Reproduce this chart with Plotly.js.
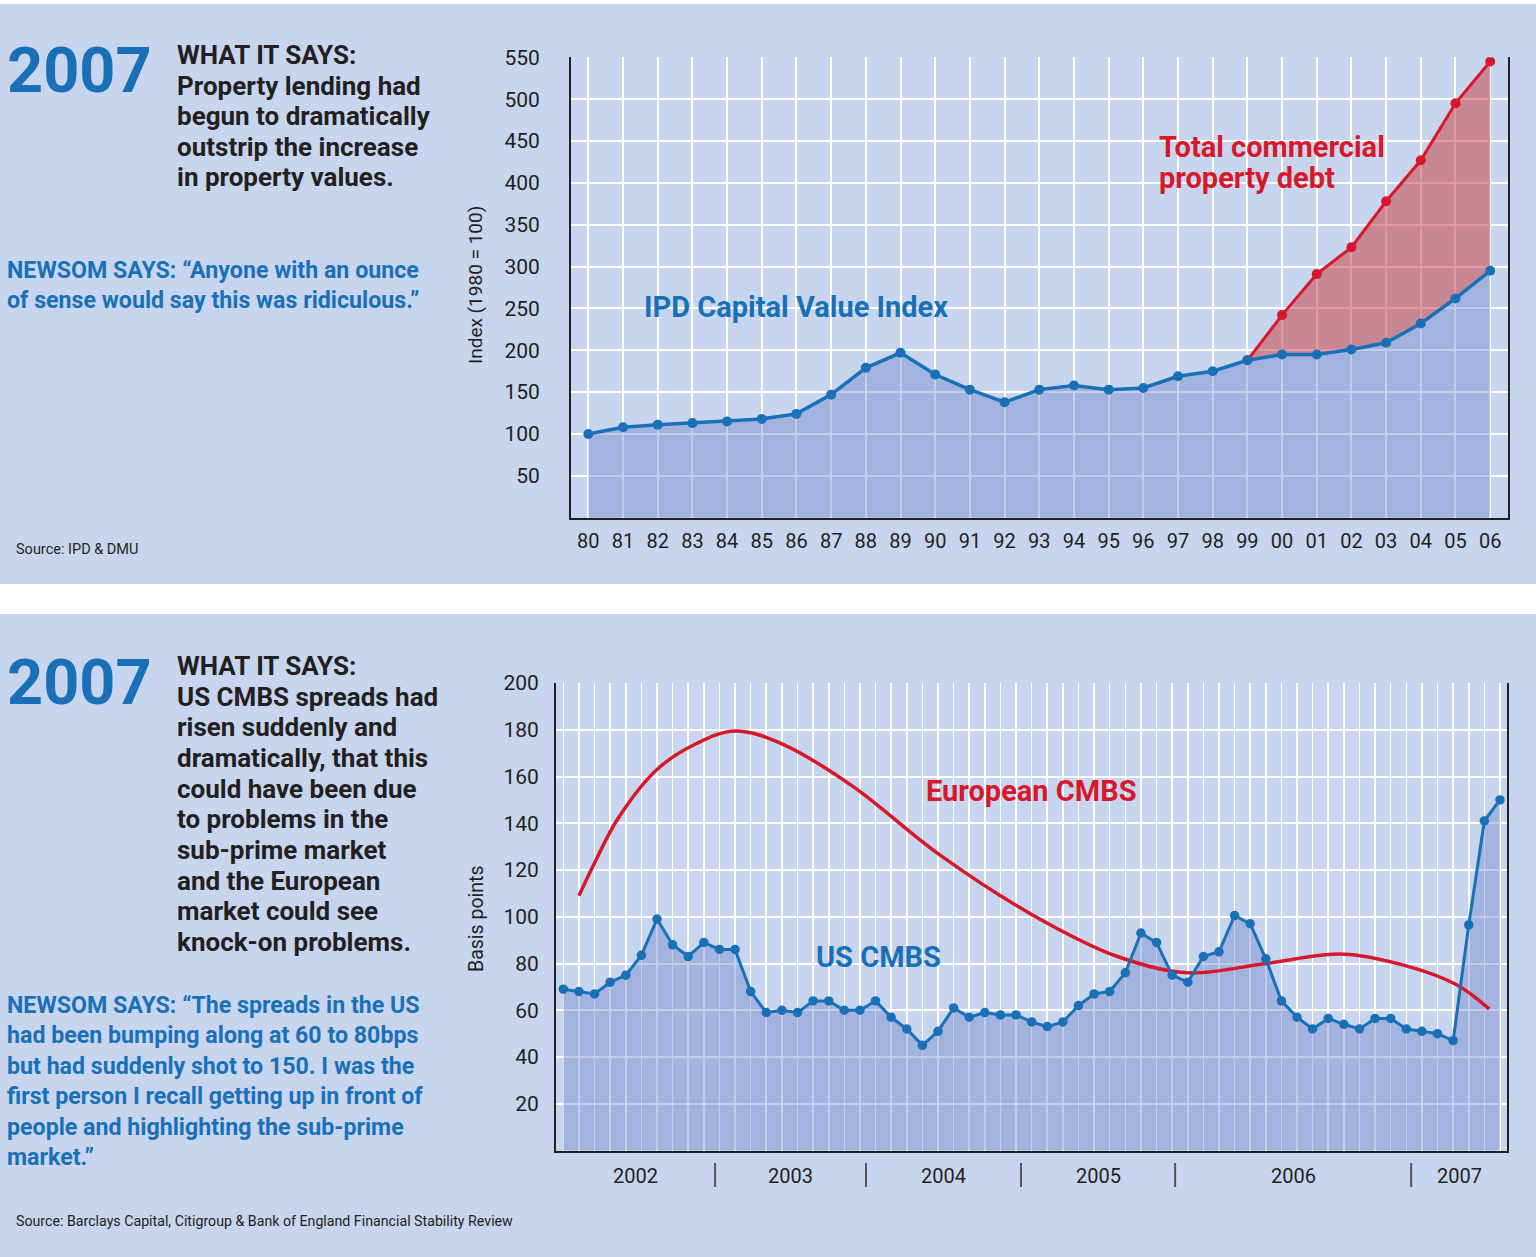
<!DOCTYPE html>
<html>
<head>
<meta charset="utf-8">
<script src="https://cdn.plot.ly/plotly-3.0.1.min.js"></script>
<style>
html,body{margin:0;padding:0;background:#ffffff;}
#chart{width:1536px;height:1257px;}
</style>
</head>
<body>
<div id="chart"></div>
<script>
// ---------- DATA ----------
const topYears = ['80','81','82','83','84','85','86','87','88','89','90','91','92','93','94','95','96','97','98','99','00','01','02','03','04','05','06'];
const ipdIndex = [100,108,111,113,115,118,124,147,179,197,171,153,138,153,158,153,155,169,175,188,195,195,201,209,232,262,295];
const debtYears = ['99','00','01','02','03','04','05','06'];
const propertyDebt = [188,242,291,323,378,427,495,545];
const topYTicks = [50,100,150,200,250,300,350,400,450,500,550];

const usCmbs = [69,68,67,72,75,83.5,99,88,83,89,86,86,68,59,60,59,64,64,60,60,64,57,52,45,51,61,57,59,58,58,55,53,55,62,67,68,76,93,89,75,72,83,85,100.5,97,82,64,57,52,56.5,54,52,56.5,56.5,52,51,50,47,96.5,141,150];
const euroX = [1.0,2.0,3.5,6.0,8.5,11.0,14.0,18.5,24.0,30.0,35.5,40.0,45.0,50.0,54.0,57.2,59.3];
const euroCmbs = [109,123,142,163,174,179.5,174,156,127,101,83,76,80,84,79,71,60.6];
const bottomYTicks = [20,40,60,80,100,120,140,160,180,200];
const bottomYears = ['2002','2003','2004','2005','2006','2007'];
const yearBreaks = [9.72,19.39,29.32,39.19,54.31];

const topTextLines = ['WHAT IT SAYS:','Property lending had','begun to dramatically','outstrip the increase','in property values.'];
const topQuoteLines = ['NEWSOM SAYS: \u201CAnyone with an ounce','of sense would say this was ridiculous.\u201D'];
const bottomTextLines = ['WHAT IT SAYS:','US CMBS spreads had','risen suddenly and','dramatically, that this','could have been due','to problems in the','sub-prime market','and the European','market could see','knock-on problems.'];
const bottomQuoteLines = ['NEWSOM SAYS: \u201CThe spreads in the US','had been bumping along at 60 to 80bps','but had suddenly shot to 150. I was the','first person I recall getting up in front of','people and highlighting the sub-prime','market.\u201D'];

// ---------- STYLE / LAYOUT ----------
const W = 1536, H = 1257;
const px = x => x / W;
const py = y => 1 - y / H;
const PANEL = '#c7d5ee';
const DARK = '#231f20';
const BLUE = '#1a70b7';
const RED = '#d7182a';
const FONT = 'Roboto, "Open Sans", sans-serif';
const usX = usCmbs.map((_, i) => i);
const ipdUnderDebt = ipdIndex.slice(topYears.indexOf(debtYears[0]));

const traces = [
  {x: topYears, y: ipdIndex, xaxis:'x', yaxis:'y', type:'scatter', mode:'lines', line:{width:0, color:'rgba(0,0,0,0)'}, fill:'tozeroy', fillcolor:'rgba(109,133,200,0.42)', hoverinfo:'skip'},
  {x: debtYears.concat(debtYears.slice().reverse()), y: propertyDebt.concat(ipdUnderDebt.slice().reverse()), xaxis:'x', yaxis:'y', type:'scatter', mode:'lines', line:{width:0, color:'rgba(0,0,0,0)'}, fill:'toself', fillcolor:'rgba(202,80,84,0.58)', hoverinfo:'skip'},
  {x: debtYears, y: propertyDebt, xaxis:'x', yaxis:'y', type:'scatter', mode:'lines+markers', line:{color:RED, width:3}, marker:{color:RED, size:10}},
  {x: topYears, y: ipdIndex, xaxis:'x', yaxis:'y', type:'scatter', mode:'lines+markers', line:{color:BLUE, width:3.5}, marker:{color:BLUE, size:10}},
  {x: usX, y: usCmbs, xaxis:'x2', yaxis:'y2', type:'scatter', mode:'lines', line:{width:0, color:'rgba(0,0,0,0)'}, fill:'tozeroy', fillcolor:'rgba(109,133,200,0.42)', hoverinfo:'skip'},
  {x: euroX, y: euroCmbs, xaxis:'x2', yaxis:'y2', type:'scatter', mode:'lines', line:{color:RED, width:3.5, shape:'spline', smoothing:1}},
  {x: usX, y: usCmbs, xaxis:'x2', yaxis:'y2', type:'scatter', mode:'lines+markers', line:{color:BLUE, width:3}, marker:{color:BLUE, size:9.5}}
];

const annotations = [];
function txt(text, x, y, size, color, bold, extra) {
  annotations.push(Object.assign({
    text: text, xref:'paper', yref:'paper', x: px(x), y: py(y),
    xanchor:'left', yanchor:'middle', showarrow:false,
    font:{family:FONT, size:size, color:color, weight: bold ? 700 : 400}
  }, extra || {}));
}
// left column, top panel
txt('2007', 5, 71, 63, BLUE, true);
topTextLines.forEach((t, i) => txt(t, 175, 55 + i * 30.6, 26, DARK, true));
topQuoteLines.forEach((t, i) => txt(t, 5, 270 + i * 30, 23.2, BLUE, true));
txt('Source: IPD &amp; DMU', 14, 549, 14.5, DARK, false);
// left column, bottom panel
txt('2007', 5, 682, 63, BLUE, true);
bottomTextLines.forEach((t, i) => txt(t, 175, 666 + i * 30.65, 26, DARK, true));
bottomQuoteLines.forEach((t, i) => txt(t, 5, 1004.5 + i * 30.5, 23.2, BLUE, true));
txt('Source: Barclays Capital, Citigroup &amp; Bank of England Financial Stability Review', 14, 1221, 14.2, DARK, false);
// axis titles
txt('Index (1980 = 100)', 476, 285, 19, DARK, false, {xanchor:'center', textangle:-90});
txt('Basis points', 476, 919, 19.5, DARK, false, {xanchor:'center', textangle:-90});
// chart labels
txt('IPD Capital Value Index', 642, 307, 29, BLUE, true);
txt('Total commercial', 1157, 147, 29, RED, true);
txt('property debt', 1157, 178, 29, RED, true);
txt('European CMBS', 924, 791, 29, RED, true);
txt('US CMBS', 814, 957, 29, BLUE, true);

// year labels for the bottom chart
const bounds = [-0.47].concat(yearBreaks, [60.47]);
bottomYears.forEach((yr, i) => {
  annotations.push({text: yr, xref:'x2', yref:'paper', x:(bounds[i] + bounds[i+1]) / 2, y: py(1176),
    xanchor:'center', yanchor:'middle', showarrow:false, font:{family:FONT, size:20, color:DARK}});
});

const shapes = [
  {type:'rect', xref:'paper', yref:'paper', x0:0, x1:1, y0:py(584), y1:py(4), fillcolor:PANEL, line:{width:0}, layer:'below'},
  {type:'rect', xref:'paper', yref:'paper', x0:0, x1:1, y0:0, y1:py(614), fillcolor:PANEL, line:{width:0}, layer:'below'}
];
yearBreaks.forEach(b => shapes.push({type:'line', xref:'x2', yref:'paper', x0:b, x1:b, y0:py(1187), y1:py(1163), line:{color:'#555555', width:2}}));

const axisCommon = {showline:true, linecolor:DARK, linewidth:2, zeroline:false, showgrid:true, gridcolor:'#ffffff', fixedrange:true,
  ticks:'outside', tickcolor:'rgba(0,0,0,0)'};

const layout = {
  width:W, height:H, margin:{l:0, r:0, t:0, b:0}, paper_bgcolor:'#ffffff', plot_bgcolor:PANEL,
  showlegend:false, font:{family:FONT, color:DARK}, hovermode:false,
  xaxis: Object.assign({}, axisCommon, {type:'category', domain:[px(571), px(1507.5)], range:[-0.5, 26.5],
    gridwidth:2, ticklen:4, tickfont:{size:20, color:DARK}}),
  yaxis: Object.assign({}, axisCommon, {domain:[py(517.7), py(57.3)], range:[0, 550], tickmode:'array', tickvals:topYTicks,
    mirror:true, gridwidth:2, ticklen:25, tickfont:{size:21, color:DARK}}),
  xaxis2: Object.assign({}, axisCommon, {anchor:'y2', domain:[px(556), px(1507.3)], range:[-0.47, 60.47], tickmode:'linear', tick0:0, dtick:1,
    gridwidth:1.6, showticklabels:false, ticklen:0}),
  yaxis2: Object.assign({}, axisCommon, {anchor:'x2', domain:[py(1150.5), py(683)], range:[0, 200], tickmode:'array', tickvals:bottomYTicks,
    mirror:true, gridwidth:2, ticklen:11, tickfont:{size:21, color:DARK}}),
  annotations: annotations,
  shapes: shapes
};

Plotly.newPlot('chart', traces, layout, {displayModeBar:false, staticPlot:true});
</script>
</body>
</html>
